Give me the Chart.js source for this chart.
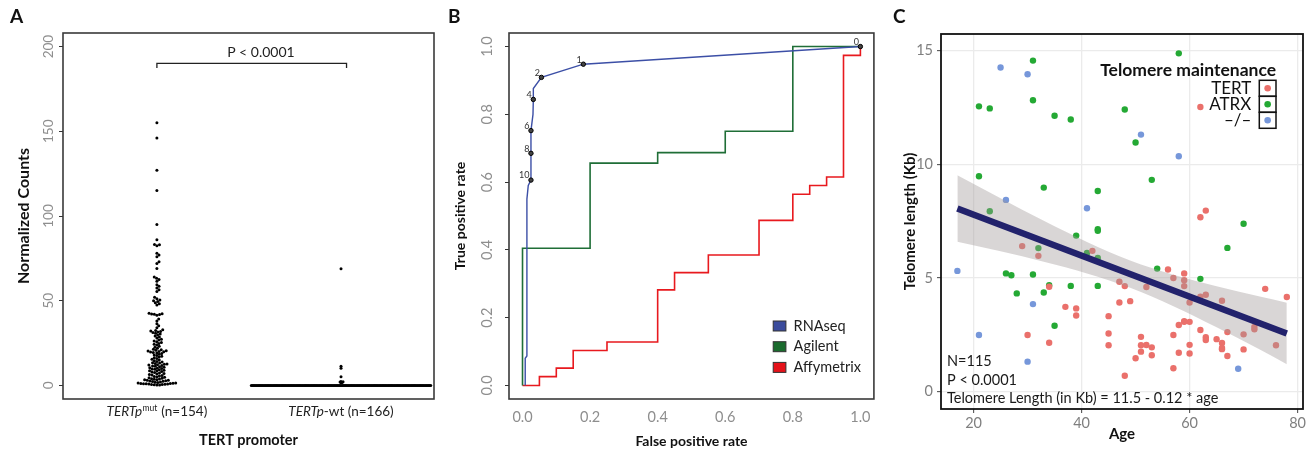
<!DOCTYPE html>
<html>
<head>
<meta charset="utf-8">
<script src="https://cdn.jsdelivr.net/npm/chart.js@4.4.1/dist/chart.umd.min.js"></script>
<style>
  html, body { margin: 0; padding: 0; background: #fff; }
  #wrap { position: relative; width: 1312px; height: 450px; }
  canvas { position: absolute; top: 0; }
</style>
</head>
<body>
<div id="wrap">
  <canvas id="chartA" width="440" height="450" style="left:0px"></canvas>
  <canvas id="chartB" width="440" height="450" style="left:440px"></canvas>
  <canvas id="chartC" width="432" height="450" style="left:880px"></canvas>
</div>
<script>
// ---------- panel A: TERT expression by promoter status ----------
const groupItalic = ['TERTp', 'TERTp'];
const groupSup = ['mut', ''];
const groupRest = [' (n=154)', '-wt (n=166)'];
const yTicksA = [0, 50, 100, 150, 200];

const countsMut = [
  0.2, 0.3, 0.4, 0.5, 0.6, 0.7, 0.8, 0.9, 1.0, 1.0, 1.1, 1.2, 1.3, 1.4, 1.5,
  1.7, 1.9, 2.1, 2.3, 2.5, 2.6, 2.8, 3.0, 3.1, 3.3, 3.4, 3.6, 3.8, 3.9,
  4.2, 4.5, 4.8, 5.0, 5.3, 5.6, 5.9, 6.2, 6.5, 6.8, 7.0, 7.3, 7.6, 7.9,
  8.2, 8.5, 8.7, 9.0, 9.2, 9.5, 9.7, 10.0, 10.2, 10.5, 10.7, 11.0,
  11.3, 11.5, 11.8, 12.0, 12.2, 12.5, 12.7, 13.0, 13.2, 13.4,
  13.8, 14.2, 14.6, 15.0, 15.4, 15.9, 16.3,
  16.8, 17.2, 17.6, 18.0, 18.4, 18.8,
  19.2, 19.5, 19.7, 19.9, 20.1, 20.3, 20.5, 20.7, 21.0, 21.3,
  22.0, 22.6, 23.2, 23.8, 24.3,
  24.8, 25.3, 25.8, 26.3, 26.8, 27.3,
  28.0, 28.6, 29.2, 29.8, 30.3,
  30.8, 31.2, 31.6, 31.9, 32.2, 32.5, 32.8,
  34.0, 35.2, 36.4, 38.0, 39.2,
  41.5, 41.8, 42.0, 42.1, 42.3, 42.6,
  47.5, 48.2, 48.8, 49.5, 50.0, 50.5, 51.2, 52.0,
  55.5, 56.5, 57.5, 58.5, 59.5,
  61.5, 62.5, 63.2, 64.0,
  69.0, 72.0, 73.0, 76.0, 77.0, 78.0, 82.5, 83.0, 83.2, 86.0,
  95.0, 115.0, 127.0, 146.0, 155.0
];
const countsWt = [
  0, 0, 0, 0, 0, 0, 0, 0, 0, 0, 0, 0, 0, 0, 0, 0, 0, 0, 0, 0,
  0, 0, 0, 0, 0, 0, 0, 0, 0, 0, 0, 0, 0, 0, 0, 0, 0, 0, 0, 0,
  0, 0, 0, 0, 0, 0, 0, 0, 0, 0, 0, 0, 0, 0, 0, 0, 0, 0, 0, 0,
  0, 0, 0, 0, 0, 0, 0, 0, 0, 0, 0, 0, 0, 0, 0, 0, 0, 0, 0, 0,
  0, 0, 0, 0, 0, 0, 0, 0, 0, 0, 0, 0, 0, 0, 0, 0, 0, 0, 0, 0,
  0, 0, 0, 0, 0, 0, 0, 0, 0, 0, 0, 0, 0, 0, 0, 0, 0, 0, 0, 0,
  0, 0, 0, 0, 0, 0, 0, 0, 0, 0, 0, 0, 0, 0, 0, 0, 0, 0, 0, 0,
  0, 0, 0, 0, 0, 0, 0, 0, 0, 0, 0, 0, 0, 0, 0, 0, 0,
  1.6, 1.8, 2.0, 2.2, 2.4, 5.1, 10.1, 11.4, 68.9
];
const bracketX = [1, 1, 2.03, 2.03];
const bracketY = [187.4, 190.1, 190.1, 187.4];
const pLabelA = 'P < 0.0001';

// ---------- panel B: ROC curves ----------
const rocTicks = [0, 0.2, 0.4, 0.6, 0.8, 1.0];
const rnaFpr = [0.008, 0.008, 0.013, 0.013, 0.017, 0.025, 0.025, 0.025, 0.031, 0.032, 0.032, 0.056, 0.18, 1.0];
const rnaTpr = [0, 0.08, 0.087, 0.55, 0.59, 0.606, 0.685, 0.752, 0.80, 0.844, 0.876, 0.909, 0.948, 1.0];
const cutFpr = [0.025, 0.025, 0.025, 0.032, 0.056, 0.18, 1.0];
const cutTpr = [0.606, 0.685, 0.752, 0.844, 0.909, 0.948, 1.0];
const cutLabels = ['10', '8', '6', '4', '2', '1', '0'];
const agiFpr = [0, 0.2, 0.4, 0.6, 0.8, 1.0];
const agiTpr = [0, 0.405, 0.656, 0.687, 0.75, 1.0];
const affyFpr = [0, 0.05, 0.1, 0.15, 0.25, 0.4, 0.45, 0.55, 0.7, 0.8, 0.85, 0.9, 0.95, 1.0];
const affyTpr = [0, 0.026, 0.051, 0.103, 0.128, 0.282, 0.333, 0.385, 0.487, 0.564, 0.590, 0.615, 0.974, 1.0];

// ---------- panel C: telomere length vs age ----------
const ageTicks = [20, 40, 60, 80];
const lenTicks = [0, 5, 10, 15];
const tertAge = [29, 32, 34, 37, 39, 39, 30, 34, 42, 45, 45, 45, 47, 48, 47, 49, 50, 48, 51, 51, 51, 52, 53, 53, 52, 56, 57, 59, 59, 59,
  60, 62, 63, 66, 74, 78, 59, 60, 58, 62, 57, 58, 60, 60, 63, 63, 65, 66, 66, 67, 67, 70, 70, 72, 72, 76, 57, 62, 62, 63, 66, 59];
const tertLen = [6.40, 5.97, 4.61, 3.73, 3.66, 3.35, 2.49, 2.15, 6.19, 3.32, 2.56, 2.04, 4.83, 4.64, 3.92, 3.98, 1.47, 0.70, 2.41, 2.04,
  1.76, 2.05, 1.95, 1.60, 4.60, 5.37, 5.00, 5.20, 4.90, 4.64, 3.92, 4.17, 4.26, 4.00, 4.52, 4.16, 3.07, 3.07, 2.93, 2.71, 2.49, 1.71,
  2.06, 1.68, 2.39, 2.27, 2.31, 2.14, 1.87, 2.62, 1.57, 2.52, 1.86, 2.85, 2.74, 2.04, 1.03, 12.51, 7.67, 7.96, 1.92, 3.10];
const atrxAge = [58, 31, 21, 23, 31, 48, 35, 38, 50, 21, 53, 33, 43, 23, 43, 43, 39, 32, 41, 43, 54, 67, 70, 62, 26, 27, 31, 28, 34, 33, 38, 43, 35];
const atrxLen = [14.87, 14.55, 12.54, 12.45, 12.81, 12.40, 12.13, 11.96, 10.95, 9.47, 9.31, 8.97, 8.82, 7.93, 7.14, 7.07, 6.86, 6.31, 6.10,
  5.88, 5.41, 6.32, 7.38, 4.96, 5.20, 5.12, 5.15, 4.32, 4.68, 4.36, 4.65, 4.65, 2.90];
const noneAge = [25, 30, 51, 58, 26, 41, 17, 31, 21, 30, 69];
const noneLen = [14.25, 13.95, 11.30, 10.35, 8.43, 8.06, 5.31, 3.85, 2.49, 1.32, 1.01];
const fitAge = [17, 78];
const fitLen = [8.05, 2.56];
const bandAge = [17, 25, 33, 41, 49, 57, 65, 73, 78];
const bandUpper = [9.51, 8.50, 7.51, 6.58, 5.77, 5.14, 4.63, 4.18, 3.91];
const bandLower = [6.59, 6.17, 5.71, 5.20, 4.57, 3.76, 2.83, 1.85, 1.21];
const noteLines = ['N=115', 'P < 0.0001', 'Telomere Length (in Kb) = 11.5 - 0.12 * age'];

// ---------- shared ----------
const FONT = 'Lato, "Noto Sans", sans-serif';
Chart.defaults.font.family = FONT;
Chart.defaults.animation = false;
Chart.defaults.plugins.legend.display = false;
Chart.defaults.plugins.tooltip.enabled = false;

const zip = (xs, ys) => xs.map((x, i) => ({ x: x, y: ys[i] }));

const boxPlugin = {
  id: 'box',
  afterDatasetsDraw(chart, args, opts) {
    const { ctx, chartArea: a } = chart;
    ctx.save();
    ctx.strokeStyle = opts.color;
    ctx.lineWidth = opts.width;
    ctx.strokeRect(a.left, a.top, a.right - a.left, a.bottom - a.top);
    ctx.restore();
  }
};

function panelTitle(letter, top, bottom) {
  return { display: true, text: letter, align: 'start', color: '#111',
    font: { size: 19, weight: 'bold' }, padding: { top: top, bottom: bottom } };
}

// beeswarm layout: offsets in px, values stay where they are
function swarm(vals, yScale, d) {
  const pts = vals.map((v, i) => ({ i: i, y: yScale.getPixelForValue(v), x: 0 }));
  const order = pts.slice().sort((a, b) => b.y - a.y);
  const placed = [];
  for (const p of order) {
    const near = placed.filter(q => Math.abs(q.y - p.y) < d);
    const cands = [0];
    near.forEach(q => {
      const dx = Math.sqrt(d * d - (q.y - p.y) ** 2);
      cands.push(q.x + dx, q.x - dx);
    });
    cands.sort((a, b) => Math.abs(a) - Math.abs(b));
    for (const c of cands) {
      if (near.every(q => (q.x - c) ** 2 + (q.y - p.y) ** 2 >= d * d - 0.01)) { p.x = c; break; }
    }
    placed.push(p);
  }
  return pts.map(p => p.x);
}

// ---------- chart A ----------
const labelsA = {
  id: 'labelsA',
  afterDraw(chart) {
    const { ctx, scales: { x, y } } = chart;
    ctx.save();
    ctx.fillStyle = '#222';
    ctx.textBaseline = 'middle';
    ctx.textAlign = 'center';
    ctx.font = '14px ' + FONT;
    ctx.fillText(pLabelA, x.getPixelForValue(1.565), y.getPixelForValue(196.4));
    ctx.textAlign = 'left';
    groupItalic.forEach((it, i) => {
      const fItal = 'italic 13.5px ' + FONT, fSup = '8.5px ' + FONT, fReg = '13.5px ' + FONT;
      ctx.font = fItal; const w1 = ctx.measureText(it).width;
      ctx.font = fSup; const w2 = groupSup[i] ? ctx.measureText(groupSup[i]).width + 1 : 0;
      ctx.font = fReg; const w3 = ctx.measureText(groupRest[i]).width;
      let px = x.getPixelForValue(i + 1) - (w1 + w2 + w3) / 2;
      const py = 412;
      ctx.font = fItal; ctx.fillText(it, px, py); px += w1;
      if (groupSup[i]) { ctx.font = fSup; ctx.fillText(groupSup[i], px + 0.5, py - 4); px += w2; }
      ctx.font = fReg; ctx.fillText(groupRest[i], px, py);
    });
    ctx.restore();
  }
};

const chartA = new Chart(document.getElementById('chartA'), {
  type: 'scatter',
  data: { datasets: [
    { label: 'bracket', data: zip(bracketX, bracketY), showLine: true, borderColor: '#222', borderWidth: 1.3, pointRadius: 0 },
    { label: 'mut', data: [], pointRadius: 1.5, backgroundColor: '#000', borderWidth: 0 },
    { label: 'wt', data: [], pointRadius: 1.5, backgroundColor: '#000', borderWidth: 0 }
  ] },
  options: {
    responsive: false,
    layout: { padding: { left: 10, right: 6, top: 0, bottom: 0 } },
    plugins: { title: panelTitle('A', 5, 5.2), box: { color: '#3a3a3a', width: 1.6 } },
    scales: {
      x: {
        type: 'linear', min: 0.49, max: 2.505,
        ticks: { display: false }, grid: { display: false }, border: { display: false },
        title: { display: true, text: 'TERT promoter', color: '#111', font: { size: 14.5, weight: 'bold' }, padding: { top: 0, bottom: 0.6 } },
        afterFit: s => { s.height = 51; }
      },
      y: {
        min: -8, max: 208,
        afterBuildTicks: s => { s.ticks = yTicksA.map(v => ({ value: v })); },
        ticks: { minRotation: 90, maxRotation: 90, crossAlign: 'center', color: '#8e8e8e', font: { size: 13.5 }, padding: -1.5 },
        grid: { drawOnChartArea: false, tickLength: 4, tickColor: '#333', tickWidth: 1 },
        border: { display: false },
        title: { display: true, text: 'Normalized Counts', color: '#111', font: { size: 16, weight: 'bold' }, padding: { top: 4.4 } },
        afterFit: s => { s.width = 53; }
      }
    }
  },
  plugins: [boxPlugin, labelsA]
});

(function placeSwarm() {
  const xs = chartA.scales.x, ys = chartA.scales.y;
  const unit = xs.getPixelForValue(1) - xs.getPixelForValue(0);
  const offMut = swarm(countsMut, ys, 2.7);
  const offWt = swarm(countsWt, ys, 1.15);
  chartA.data.datasets[1].data = countsMut.map((v, i) => ({ x: 1 + offMut[i] / unit, y: v }));
  chartA.data.datasets[2].data = countsWt.map((v, i) => ({ x: 2 + offWt[i] / unit, y: v }));
  chartA.update();
})();

// ---------- chart B ----------
const labelsB = {
  id: 'labelsB',
  afterDraw(chart) {
    const { ctx, chartArea: a, scales: { x, y } } = chart;
    ctx.save();
    ctx.fillStyle = '#333';
    ctx.font = '9px ' + FONT;
    ctx.textAlign = 'right';
    ctx.textBaseline = 'middle';
    cutLabels.forEach((t, i) => {
      ctx.fillText(t, x.getPixelForValue(cutFpr[i]) - 1.5, y.getPixelForValue(cutTpr[i]) - 4.5);
    });
    // legend
    const items = chart.data.datasets.filter(d => d.legendFill);
    items.forEach((d, i) => {
      const cy = a.bottom - 73 + i * 20.7;
      const bx = a.right - 100.7;
      ctx.fillStyle = d.legendFill;
      ctx.fillRect(bx, cy - 5, 12.7, 10);
      ctx.strokeStyle = '#333';
      ctx.lineWidth = 1;
      ctx.strokeRect(bx, cy - 5, 12.7, 10);
      ctx.fillStyle = '#222';
      ctx.font = '14.5px ' + FONT;
      ctx.textAlign = 'left';
      ctx.fillText(d.label, bx + 20.4, cy);
    });
    ctx.restore();
  }
};

new Chart(document.getElementById('chartB'), {
  type: 'scatter',
  data: { datasets: [
    { label: 'cutoffs', data: zip(cutFpr, cutTpr), pointRadius: 2.2, backgroundColor: '#444', borderColor: '#000', borderWidth: 1 },
    { label: 'RNAseq', legendFill: '#3a4b9c', data: zip(rnaFpr, rnaTpr), showLine: true, borderColor: '#3c4fa6', borderWidth: 1.4, pointRadius: 0 },
    { label: 'Agilent', legendFill: '#1a6b2d', data: zip(agiFpr, agiTpr), showLine: true, stepped: 'after', borderColor: '#1f6e37', borderWidth: 1.6, pointRadius: 0 },
    { label: 'Affymetrix', legendFill: '#e5121a', data: zip(affyFpr, affyTpr), showLine: true, stepped: 'before', borderColor: '#e8191e', borderWidth: 1.6, pointRadius: 0 }
  ] },
  options: {
    responsive: false,
    layout: { padding: { left: 8, right: 2, top: 0, bottom: 0 } },
    plugins: { title: panelTitle('B', 5, 5.2), box: { color: '#3a3a3a', width: 1.6 } },
    scales: {
      x: {
        type: 'linear', min: -0.04, max: 1.04,
        afterBuildTicks: s => { s.ticks = rocTicks.map(v => ({ value: v })); },
        ticks: { color: '#8e8e8e', font: { size: 14.5 }, padding: 9.3, callback: v => v.toFixed(1) },
        grid: { drawOnChartArea: false, drawTicks: false }, border: { display: false },
        title: { display: true, text: 'False positive rate', color: '#111', font: { size: 14, weight: 'bold' }, padding: { top: 0, bottom: 0.6 } },
        afterFit: s => { s.height = 51; }
      },
      y: {
        min: -0.04, max: 1.04,
        afterBuildTicks: s => { s.ticks = rocTicks.map(v => ({ value: v })); },
        ticks: { minRotation: 90, maxRotation: 90, crossAlign: 'center', color: '#8e8e8e', font: { size: 14.5 }, padding: 7.5, callback: v => v.toFixed(1) },
        grid: { drawOnChartArea: false, tickLength: 4, tickColor: '#333', tickWidth: 1 },
        border: { display: false },
        title: { display: true, text: 'True positive rate', color: '#111', font: { size: 14, weight: 'bold' }, padding: { top: 4.3 } },
        afterFit: s => { s.width = 61; }
      }
    }
  },
  plugins: [boxPlugin, labelsB]
});

// ---------- chart C ----------
const labelsC = {
  id: 'labelsC',
  afterDraw(chart) {
    const { ctx, chartArea: a } = chart;
    ctx.save();
    ctx.fillStyle = '#1a1a1a';
    ctx.textBaseline = 'middle';
    ctx.textAlign = 'left';
    ctx.font = '14.5px ' + FONT;
    noteLines.forEach((t, i) => ctx.fillText(t, a.left + 6, a.bottom - 47.3 + i * 18.3));
    // legend
    const keyRight = a.right - 27, keyW = 16.7;
    ctx.textAlign = 'right';
    ctx.font = 'bold 17.5px ' + FONT;
    ctx.fillStyle = '#111';
    ctx.fillText('Telomere maintenance', keyRight, a.top + 36);
    const items = chart.data.datasets.filter(d => d.legendKey);
    items.forEach((d, i) => {
      const cy = a.top + 54.3 + i * 16;
      ctx.strokeStyle = '#111';
      ctx.lineWidth = 1.5;
      ctx.strokeRect(keyRight - keyW, cy - 8, keyW, 16);
      ctx.fillStyle = d.backgroundColor;
      ctx.beginPath();
      ctx.arc(keyRight - keyW / 2, cy, 3.3, 0, Math.PI * 2);
      ctx.fill();
      ctx.fillStyle = '#111';
      ctx.font = '17px ' + FONT;
      ctx.fillText(d.label, keyRight - keyW - 8, cy);
    });
    ctx.restore();
  }
};

new Chart(document.getElementById('chartC'), {
  type: 'scatter',
  data: { datasets: [
    { label: 'fit', data: zip(fitAge, fitLen), showLine: true, borderColor: '#22226c', borderWidth: 6.5, pointRadius: 0 },
    { label: 'upper', data: zip(bandAge, bandUpper), showLine: true, fill: '+1', backgroundColor: 'rgba(160,152,152,0.4)', borderWidth: 0, pointRadius: 0, cubicInterpolationMode: 'monotone' },
    { label: 'lower', data: zip(bandAge, bandLower), showLine: true, borderWidth: 0, pointRadius: 0, cubicInterpolationMode: 'monotone' },
    { label: 'TERT', legendKey: true, data: zip(tertAge, tertLen), pointRadius: 3.2, backgroundColor: '#ea706b', borderWidth: 0 },
    { label: 'ATRX', legendKey: true, data: zip(atrxAge, atrxLen), pointRadius: 3.2, backgroundColor: '#24a934', borderWidth: 0 },
    { label: '–/–', legendKey: true, data: zip(noneAge, noneLen), pointRadius: 3.2, backgroundColor: '#7697da', borderWidth: 0 }
  ] },
  options: {
    responsive: false,
    layout: { padding: { left: 13, right: 9, top: 0, bottom: 0 } },
    plugins: { title: panelTitle('C', 5, 6.2), box: { color: '#111', width: 1.8 }, filler: { propagate: false } },
    scales: {
      x: {
        type: 'linear', min: 13.97, max: 81.0,
        afterBuildTicks: s => { s.ticks = ageTicks.map(v => ({ value: v })); },
        ticks: { color: '#7f7f7f', font: { size: 14.5 }, padding: 1.3 },
        grid: { color: '#ebebeb', lineWidth: 1.3, tickLength: 4, tickColor: '#444', tickWidth: 1 },
        border: { display: false },
        title: { display: true, text: 'Age', color: '#111', font: { size: 15, weight: 'bold' }, padding: { top: 0, bottom: 7 } },
        afterFit: s => { s.height = 41; }
      },
      y: {
        min: -0.76, max: 15.72,
        afterBuildTicks: s => { s.ticks = lenTicks.map(v => ({ value: v })); },
        ticks: { color: '#7f7f7f', font: { size: 14.5 }, padding: 4 },
        grid: { color: '#ebebeb', lineWidth: 1.3, tickLength: 4, tickColor: '#444', tickWidth: 1 },
        border: { display: false },
        title: { display: true, text: 'Telomere length (Kb)', color: '#111', font: { size: 15, weight: 'bold' }, padding: { top: 8 } },
        afterFit: s => { s.width = 48; }
      }
    }
  },
  plugins: [boxPlugin, labelsC]
});
</script>
</body>
</html>
